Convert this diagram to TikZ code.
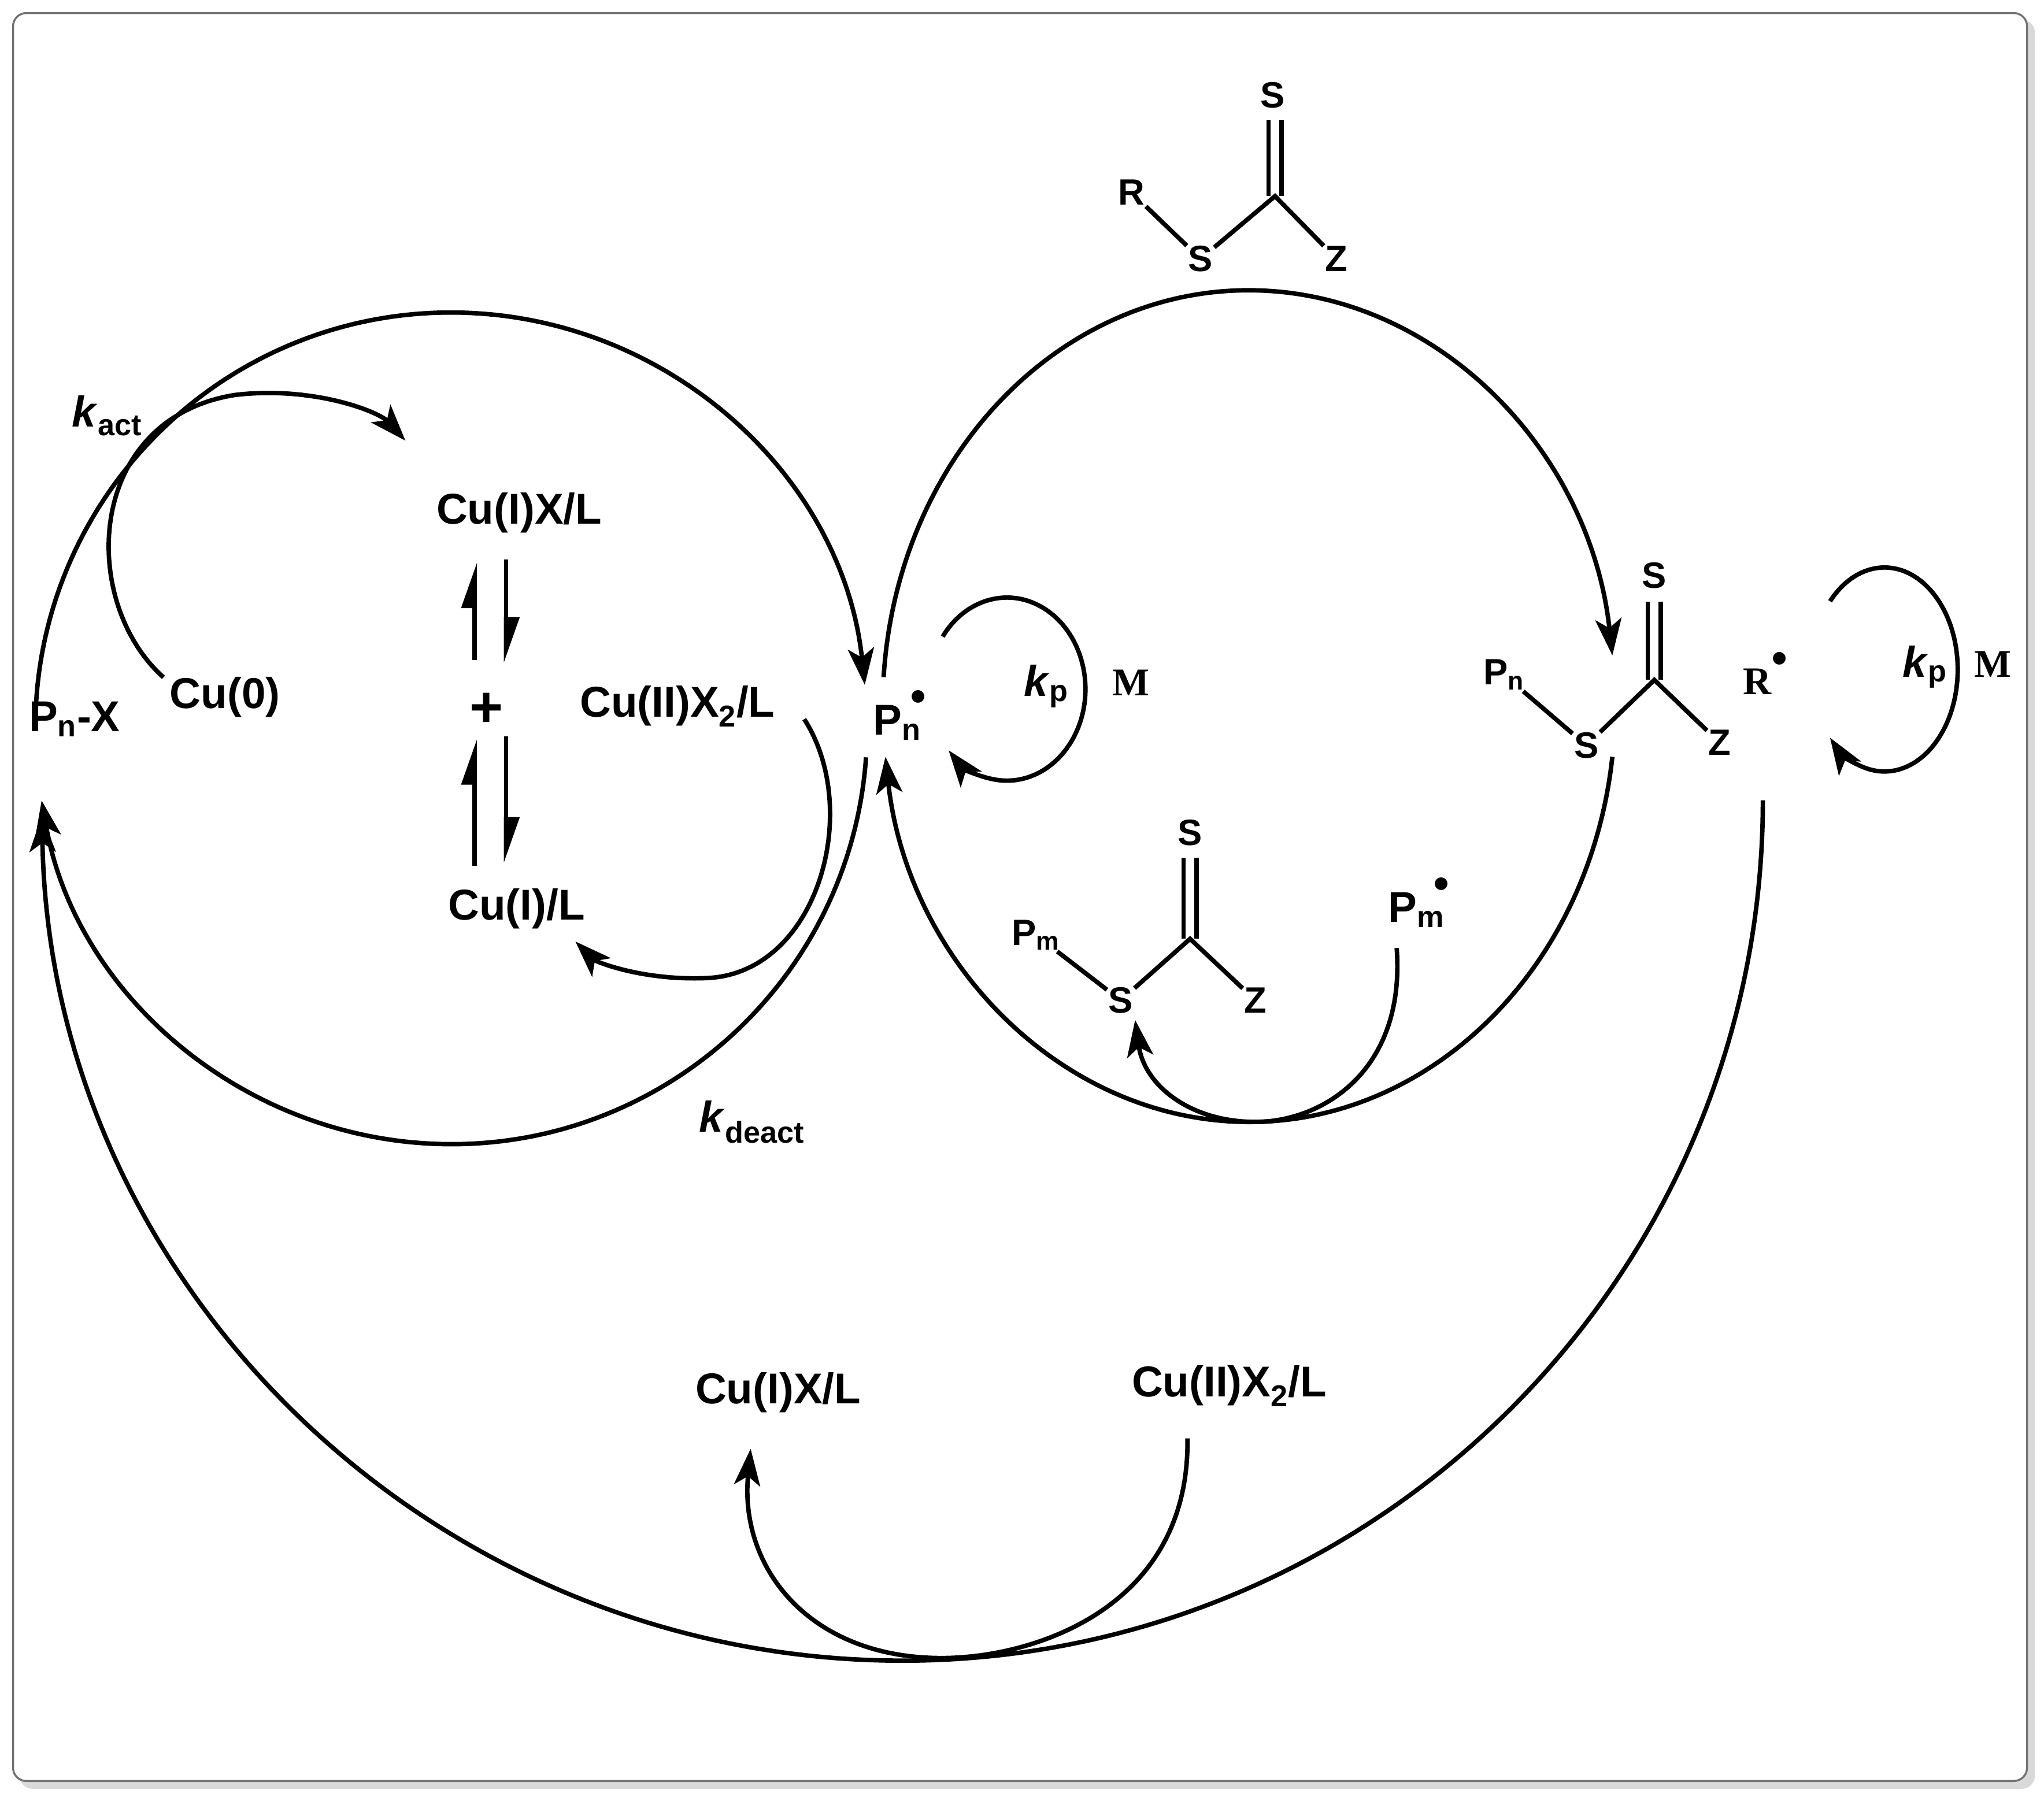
\documentclass[tikz,border=0pt]{standalone}
\usepackage{fontspec}
\setmainfont{Liberation Sans}
\newfontfamily\serifb{Liberation Serif}
\usetikzlibrary{arrows.meta}
\begin{document}
\begin{tikzpicture}[x=1pt,y=-1pt,
  lbl/.style={font=\fontsize{33}{36}\selectfont\bfseries,inner sep=1pt},
  atom/.style={font=\fontsize{28}{30}\selectfont\bfseries,inner sep=1pt},
  mm/.style={font=\fontsize{30}{32}\selectfont\serifb\bfseries,inner sep=1pt},
  ln/.style={line width=3.4pt},
  arr/.style={ln,-{Stealth[length=28pt,width=20pt,inset=7pt]}},
  harp/.style={line width=3.4pt,-{Stealth[left,length=30pt,width=20pt,inset=0pt]}}]
\useasboundingbox (0,0) rectangle (1563,1377);
\fill[black!15,rounded corners=10pt] (15,15) rectangle (1556,1368);
\draw[black!55,fill=white,line width=1.5pt,rounded corners=10pt] (10,10) rectangle (1550,1362);

% main circles
\draw[arr] (345,557) ++(182:318) arc (182:354:318);
\draw[arr] (345,557) ++(4:318) arc (4:170:318);
\draw[arr] (955,540) ++(184:280 and 318) arc[start angle=184,end angle=353,x radius=280,y radius=318];
\draw[arr] (955,540) ++(7:280 and 318) arc[start angle=7,end angle=173,x radius=280,y radius=318];
\draw[arr] (690,612) ++(0:658) arc (0:179:658);

% labels
\node[lbl] (pnx) at (57,550) {P\textsubscript{n}-X};
\node[lbl] (cu0) at (172,533) {Cu(0)};
\node[lbl] (kact) at (82,318) {\textit{k}\textsubscript{act}};
\node[lbl] (cuix) at (397,392) {Cu(I)X/L};
\node[font=\fontsize{44}{46}\selectfont\bfseries] (plus) at (372,543) {+};
\node[lbl] (cuii) at (518,540) {Cu(II)X\textsubscript{2}/L};
\node[lbl] (cuil) at (395,695) {Cu(I)/L};
\node[lbl] (pn) at (688,547) {P\textsubscript{n}\raisebox{0.7em}{\hspace{-0.25em}$\bullet$}};
\node[lbl] (kp1) at (800,525) {\textit{k}\textsubscript{p}};
\node[mm] (m1) at (865,522) {M};
\node[lbl] (kdeact) at (575,858) {\textit{k}\textsubscript{deact}};
\node[mm] (r) at (1350,515) {R\raisebox{0.7em}{$\bullet$}};
\node[lbl] (kp2) at (1472,510) {\textit{k}\textsubscript{p}};
\node[mm] (m2) at (1524,508) {M};
\node[lbl] (pm) at (1085,690) {P\textsubscript{m}\raisebox{0.7em}{\hspace{-0.25em}$\bullet$}};
\node[lbl] (cuix2) at (595,1065) {Cu(I)X/L};
\node[lbl] (cuii2) at (940,1060) {Cu(II)X\textsubscript{2}/L};

% small arrows
\draw[arr] (125,518) .. controls (60,460) and (65,320) .. (180,302) .. controls (240,295) and (290,315) .. (310,337);
\draw[arr] (615,550) .. controls (660,620) and (625,745) .. (540,748) .. controls (490,750) and (455,735) .. (440,720);
\draw[arr] (908,1100) .. controls (910,1230) and (790,1268) .. (720,1268) .. controls (620,1268) and (565,1200) .. (574,1108);
\draw[arr] (1068,725) .. controls (1075,820) and (1010,858) .. (960,858) .. controls (910,858) and (875,830) .. (868,780);
\draw[arr] (770,527) ++(215:60 and 70) arc[start angle=215,end angle=498,x radius=60,y radius=70];
\draw[arr] (1441,512) ++(222:56 and 78) arc[start angle=222,end angle=498,x radius=56,y radius=78];

% equilibria
\draw[harp] (363,505) -- (363,430);
\draw[harp] (387,428) -- (387,507);
\draw[harp] (363,662) -- (363,565);
\draw[harp] (387,563) -- (387,660);

% top RAFT agent
\node[atom] (ra) at (865,147) {R};
\node[atom] (s1) at (918,198) {S};
\node[atom] (s1b) at (973,73) {S};
\node[atom] (z1) at (1022,198) {Z};
\coordinate (c1) at (975,150);
\draw[ln] (ra) -- (s1);
\draw[ln] (s1) -- (c1) -- (z1);
\draw[ln] (970,150) -- (970,92);
\draw[ln] (980,150) -- (980,92);

% middle right
\node[atom] (pn2) at (1150,516) {P\textsubscript{n}};
\node[atom] (s2) at (1213,570) {S};
\node[atom] (s2b) at (1265,440) {S};
\node[atom] (z2) at (1315,568) {Z};
\coordinate (c2) at (1265,520);
\draw[ln] (pn2) -- (s2);
\draw[ln] (s2) -- (c2) -- (z2);
\draw[ln] (1260,520) -- (1260,460);
\draw[ln] (1270,520) -- (1270,460);

% bottom
\node[atom] (pm2) at (792,715) {P\textsubscript{m}};
\node[atom] (s3) at (857,765) {S};
\node[atom] (s3b) at (910,637) {S};
\node[atom] (z3) at (960,765) {Z};
\coordinate (c3) at (910,718);
\draw[ln] (pm2) -- (s3);
\draw[ln] (s3) -- (c3) -- (z3);
\draw[ln] (905,718) -- (905,656);
\draw[ln] (915,718) -- (915,656);
\end{tikzpicture}
\end{document}
